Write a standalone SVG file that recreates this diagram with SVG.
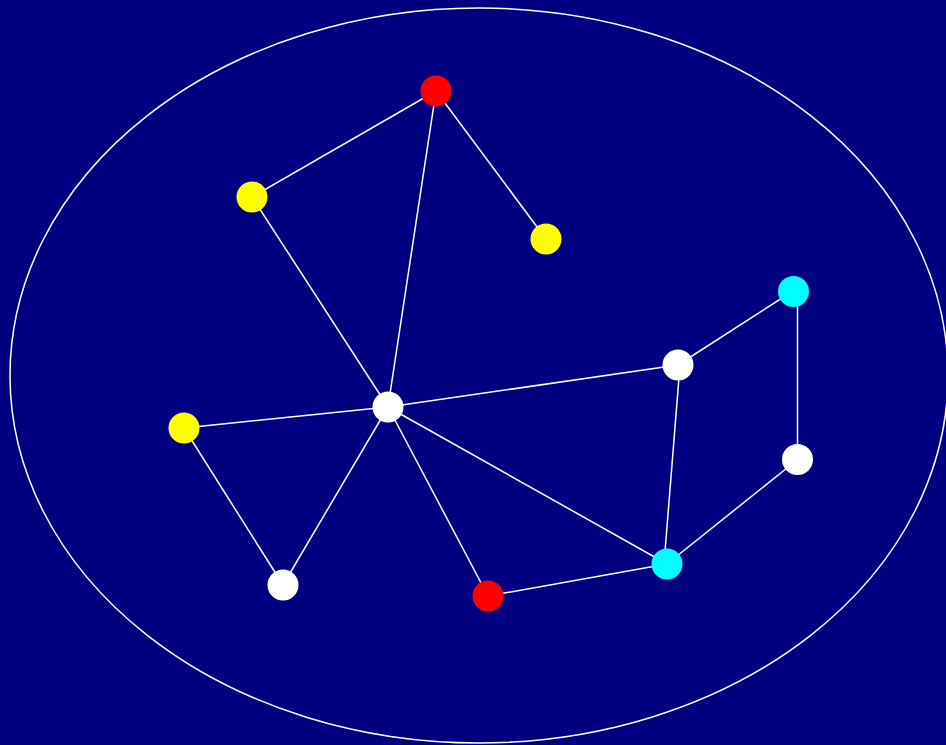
<svg xmlns="http://www.w3.org/2000/svg" width="946" height="745" viewBox="0 0 946 745">
<style>
.e{stroke:#fff;stroke-width:1.5;fill:none}
.n{stroke:none}
</style>
<rect width="946" height="745" fill="#000080"/>
<ellipse cx="479" cy="375.5" rx="469" ry="367.5" fill="none" stroke="#fff" stroke-width="1.5"/>
<g id="edges">
<line class="e" x1="436" y1="91" x2="252" y2="197"/>
<line class="e" x1="436" y1="91" x2="546" y2="239"/>
<line class="e" x1="436" y1="91" x2="388" y2="407"/>
<line class="e" x1="252" y1="197" x2="388" y2="407"/>
<line class="e" x1="388" y1="407" x2="184" y2="428"/>
<line class="e" x1="388" y1="407" x2="283" y2="585"/>
<line class="e" x1="184" y1="428" x2="283" y2="585"/>
<line class="e" x1="388" y1="407" x2="488" y2="596"/>
<line class="e" x1="388" y1="407" x2="667" y2="564"/>
<line class="e" x1="388" y1="407" x2="678" y2="365"/>
<line class="e" x1="678" y1="365" x2="793" y2="291"/>
<line class="e" x1="797.5" y1="291" x2="797.5" y2="460"/>
<line class="e" x1="797" y1="460" x2="667" y2="564"/>
<line class="e" x1="680" y1="365" x2="664" y2="564"/>
<line class="e" x1="488" y1="596" x2="667" y2="564"/>
</g>
<g id="n1"><circle class="n" cx="436" cy="91" r="15.5" fill="#ff0000"/></g>
<g id="n2"><circle class="n" cx="252" cy="197" r="15.5" fill="#ffff00"/></g>
<g id="n3"><circle class="n" cx="546" cy="239" r="15.5" fill="#ffff00"/></g>
<g id="n4"><circle class="n" cx="793.5" cy="291.5" r="15.5" fill="#00ffff"/></g>
<g id="n5"><circle class="n" cx="678" cy="365" r="15.5" fill="#ffffff"/></g>
<g id="n6"><circle class="n" cx="388" cy="407" r="15.5" fill="#ffffff"/></g>
<g id="n7"><circle class="n" cx="184" cy="428" r="15.5" fill="#ffff00"/></g>
<g id="n8"><circle class="n" cx="797.5" cy="459.5" r="15.5" fill="#ffffff"/></g>
<g id="n9"><circle class="n" cx="667" cy="564" r="15.5" fill="#00ffff"/></g>
<g id="n10"><circle class="n" cx="283" cy="585" r="15.5" fill="#ffffff"/></g>
<g id="n11"><circle class="n" cx="488" cy="596" r="15.5" fill="#ff0000"/></g>
</svg>
